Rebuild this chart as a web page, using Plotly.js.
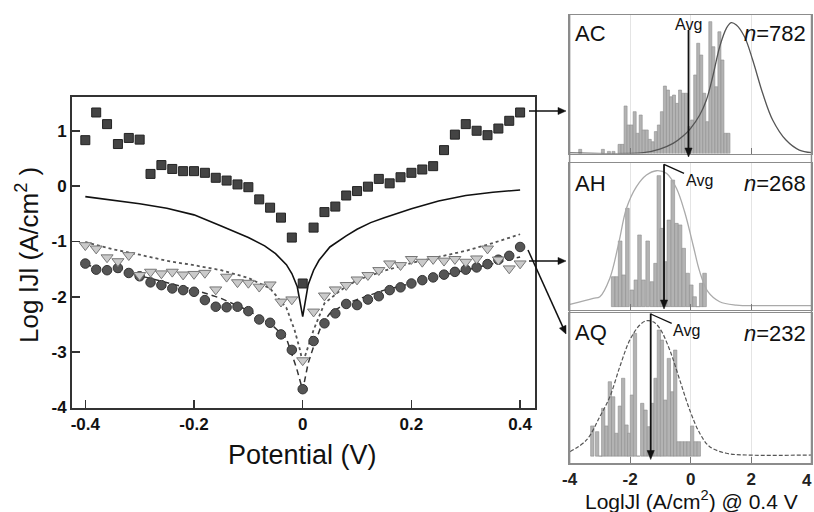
<!DOCTYPE html>
<html>
<head>
<meta charset="utf-8">
<script src="https://cdn.plot.ly/plotly-3.0.1.min.js"></script>
<style>html,body{margin:0;padding:0;background:#fff;}#chart{width:814px;height:512px;}</style>
</head>
<body>
<div id="chart"></div>
<script>
// ---------- main I-V plot data ----------
const potential = [-0.40,-0.38,-0.36,-0.34,-0.32,-0.30,-0.28,-0.26,-0.24,-0.22,-0.20,-0.18,-0.16,-0.14,-0.12,-0.10,-0.08,-0.06,-0.04,-0.02,0.00,
  0.02,0.04,0.06,0.08,0.10,0.12,0.14,0.16,0.18,0.20,0.22,0.24,0.26,0.28,0.30,0.32,0.34,0.36,0.38,0.40];
const squareLogJ = [0.83,1.33,1.12,0.76,0.87,0.84,0.22,0.38,0.31,0.27,0.27,0.24,0.15,0.10,0.03,-0.02,-0.24,-0.39,-0.57,-0.93,-1.76,
  -0.75,-0.47,-0.37,-0.17,-0.09,-0.01,0.13,0.05,0.16,0.24,0.30,0.36,0.65,0.93,1.12,1.00,0.92,1.04,1.18,1.33];
const triangleLogJ = [-1.07,-1.13,-1.29,-1.36,-1.25,-1.61,-1.55,-1.58,-1.55,-1.60,-1.59,-1.57,-1.87,-1.64,-1.74,-1.75,-1.82,-1.78,-2.09,-2.05,-3.15,
  -2.27,-1.98,-1.87,-1.79,-1.69,-1.61,-1.52,-1.40,-1.43,-1.32,-1.37,-1.32,-1.35,-1.32,-1.37,-1.31,-1.13,-1.33,-1.49,-1.40];
const circleLogJ = [-1.40,-1.51,-1.52,-1.48,-1.57,-1.63,-1.74,-1.79,-1.85,-1.88,-1.91,-2.06,-2.18,-2.19,-2.18,-2.26,-2.41,-2.47,-2.68,-2.96,-3.67,
  -2.80,-2.48,-2.30,-2.13,-2.15,-2.05,-1.99,-1.88,-1.83,-1.76,-1.70,-1.65,-1.60,-1.55,-1.51,-1.47,-1.41,-1.33,-1.26,-1.10];

const solidFitV     = [-0.40,-0.35,-0.30,-0.25,-0.20,-0.15,-0.10,-0.07,-0.05,-0.03,-0.02,-0.01,0.00,0.01,0.02,0.03,0.05,0.08,0.10,0.125,0.15,0.20,0.25,0.30,0.35,0.40];
const solidFitLogJ  = [-0.19,-0.25,-0.32,-0.40,-0.52,-0.72,-0.93,-1.08,-1.22,-1.42,-1.58,-1.82,-2.36,-1.78,-1.52,-1.34,-1.10,-0.90,-0.78,-0.66,-0.57,-0.41,-0.27,-0.17,-0.11,-0.07];
const dottedFitV    = [-0.40,-0.35,-0.30,-0.25,-0.20,-0.15,-0.10,-0.06,-0.03,-0.015,-0.005,0.00,0.01,0.02,0.04,0.07,0.10,0.15,0.20,0.25,0.30,0.35,0.40];
const dottedFitLogJ = [-1.01,-1.14,-1.24,-1.35,-1.43,-1.52,-1.66,-1.85,-2.20,-2.60,-2.96,-3.20,-2.90,-2.60,-2.12,-1.88,-1.70,-1.53,-1.39,-1.28,-1.17,-1.03,-0.87];
const dashedFitV    = [-0.40,-0.35,-0.30,-0.25,-0.20,-0.15,-0.10,-0.06,-0.03,-0.011,0.00,0.01,0.02,0.035,0.05,0.08,0.10,0.15,0.20,0.25,0.30,0.35,0.40];
const dashedFitLogJ = [-1.42,-1.53,-1.62,-1.74,-1.87,-2.03,-2.25,-2.48,-2.75,-3.30,-3.69,-3.20,-2.90,-2.50,-2.30,-2.12,-2.05,-1.88,-1.76,-1.63,-1.52,-1.40,-1.28];

// tick labels shown with a plain hyphen, as in the reference
const mainXTickLabels = {'\u22120.4':'-0.4', '\u22120.2':'-0.2'};
const mainYTickLabels = {'\u22121':'-1', '\u22122':'-2', '\u22123':'-3', '\u22124':'-4'};
const histXTickLabels = {'\u22124':'-4', '\u22122':'-2', '4':' '};
const histLastTickLabel = '4';

// ---------- histograms ----------
const acBinCenters = [-3.65,-2.90,-2.70,-2.55,-2.35,-2.25,-2.15,-2.05,-1.95,-1.85,-1.75,-1.65,-1.55,-1.45,-1.35,-1.25,-1.15,-1.05,-0.95,-0.85,-0.75,-0.65,-0.55,-0.45,-0.35,-0.25,-0.15,-0.05,0.05,0.15,0.25,0.35,0.45,0.55,0.65,0.75,0.85,0.95,1.05,1.15,1.25];
const acCounts     = [3,3,1.5,1.5,6.6,6.6,34.3,20.6,20.6,30.2,14.6,27.8,17,17,10.2,8.5,15.8,20.6,30.2,48.7,45.8,41,42.2,36.2,45.8,43.5,43.5,19.4,24.2,56.7,79.6,71.1,43.5,23,95.2,77.1,48.2,87.9,67.5,14.6,14.6];
const acFitX = [-4.0,-1.56,-1.02,-0.58,-0.25,0.0,0.30,0.52,0.73,0.96,1.18,1.34,1.51,1.78,2.05,2.38,2.71,3.15,3.59,4.0];
const acFitY = [0.5,0.6,3.2,7.3,12.6,18.2,27.8,38.6,55.5,77.1,90.4,94.5,92.8,84.3,67.5,43.5,24.2,9.7,2.5,0.6];
const acAvg = -0.07, acN = 782;

const ahBinCenters = [-2.56,-2.44,-2.33,-2.21,-2.09,-1.94,-1.81,-1.69,-1.56,-1.42,-1.28,-1.16,-1.05,-0.95,-0.84,-0.72,-0.59,-0.47,-0.35,-0.23,-0.10,0.02,0.13,0.24,0.35,0.46];
const ahCounts     = [20.9,20.9,45.8,22.1,68.6,11.6,18.6,50,18.6,45.8,17.4,30.2,91.4,54.6,31.4,60.4,88.3,58.1,57,40.7,23.3,15.1,6.9,0,16.3,23.3];
const ahFitX = [-3.99,-3.22,-3.0,-2.67,-2.39,-2.12,-1.79,-1.46,-1.13,-0.80,-0.47,-0.20,0.08,0.30,0.57,0.96,1.51,2.27,3.98];
const ahFitY = [1.6,5.8,6.9,19.8,43,68.6,83.7,91.8,94.8,93,82.6,66.2,43,24.4,10.4,3.4,1.1,0.7,0.7];
const ahAvg = -0.88, ahN = 268;

const aqBinCenters = [-3.25,-3.09,-2.98,-2.89,-2.78,-2.67,-2.56,-2.45,-2.34,-2.23,-2.12,-2.03,-1.94,-1.84,-1.73,-1.60,-1.49,-1.38,-1.27,-1.16,-1.05,-0.95,-0.84,-0.72,-0.61,-0.51,-0.40,-0.29,-0.18,-0.07,0.05,0.16,0.27];
const aqCounts     = [21.1,17.1,0,33.4,21.1,52,41.5,16,35,54.4,21.8,16,42.7,85.8,0,36.9,32.2,20.6,36.9,54.4,88.1,81.1,39.2,68.3,45,74.1,10.1,10.1,10.1,10.1,21.1,10.1,10.1];
const aqFitX = [-3.99,-3.44,-3.0,-2.67,-2.34,-2.01,-1.68,-1.46,-1.24,-1.02,-0.69,-0.36,-0.03,0.30,0.63,1.18,1.84,3.98];
const aqFitY = [3.1,11.3,27.6,41.5,62.5,81.1,91.6,94.6,93.9,89.3,74.1,53.2,32.2,16,6.6,2,0.8,0.8];
const aqAvg = -1.32, aqN = 232;

// ---------- layout helpers ----------
const W = 814, H = 512;
const px = x => x / W;
const py = y => 1 - y / H;
const FONT = 'Liberation Sans, Arial, Helvetica, sans-serif';

const traces = [
  {x: solidFitV, y: solidFitLogJ, type:'scatter', mode:'lines', line:{color:'#111', width:1.6}, xaxis:'x', yaxis:'y'},
  {x: dottedFitV, y: dottedFitLogJ, type:'scatter', mode:'lines', line:{color:'#555', width:1.8, dash:'dot'}, xaxis:'x', yaxis:'y'},
  {x: dashedFitV, y: dashedFitLogJ, type:'scatter', mode:'lines', line:{color:'#333', width:1.5, dash:'6px,4px'}, xaxis:'x', yaxis:'y'},
  {x: potential, y: circleLogJ, type:'scatter', mode:'markers', marker:{symbol:'circle', size:9.5, color:'#555', line:{color:'#333', width:1}}, xaxis:'x', yaxis:'y'},
  {x: potential, y: triangleLogJ, type:'scatter', mode:'markers', marker:{symbol:'triangle-down', size:10.5, color:'#cacaca', line:{color:'#777', width:1}}, xaxis:'x', yaxis:'y'},
  {x: potential, y: squareLogJ, type:'scatter', mode:'markers', marker:{symbol:'square', size:9, color:'#444', line:{color:'#222', width:1}}, xaxis:'x', yaxis:'y'},

  {x: acBinCenters, y: acCounts, type:'bar', width:0.1, marker:{color:'#b3b3b3', line:{color:'#8f8f8f', width:0.6}}, xaxis:'x2', yaxis:'y2'},
  {x: acFitX, y: acFitY, type:'scatter', mode:'lines', line:{color:'#555', width:1.3, shape:'spline', smoothing:1}, xaxis:'x2', yaxis:'y2'},
  {x: ahBinCenters, y: ahCounts, type:'bar', width:0.12, marker:{color:'#b3b3b3', line:{color:'#8f8f8f', width:0.6}}, xaxis:'x3', yaxis:'y3'},
  {x: ahFitX, y: ahFitY, type:'scatter', mode:'lines', line:{color:'#aaa', width:1.3, shape:'spline', smoothing:1}, xaxis:'x3', yaxis:'y3'},
  {x: aqBinCenters, y: aqCounts, type:'bar', width:0.11, marker:{color:'#b3b3b3', line:{color:'#8f8f8f', width:0.6}}, xaxis:'x4', yaxis:'y4'},
  {x: aqFitX, y: aqFitY, type:'scatter', mode:'lines', line:{color:'#555', width:1.2, dash:'4px,2px', shape:'spline', smoothing:1}, xaxis:'x4', yaxis:'y4'}
];

const histXDom = [px(569.6), px(811.7)];
const histX = (show, anchor) => ({
  domain: histXDom, anchor: anchor, range: [-4, 4], tickmode:'linear', tick0:0, dtick:2, labelalias: histXTickLabels,
  showticklabels: show, ticks:'inside', ticklen:6, tickcolor:'#777', tickwidth:1.2,
  showgrid:true, gridcolor:'#e4e4e4', gridwidth:1, zeroline:false,
  showline:true, mirror:true, linecolor:'#8c8c8c', linewidth:1.5,
  tickfont:{family:FONT, size:17, color:'#222', weight:'bold'}
});
// overlay axis carrying only the short minor ticks
const histMinorX = (over, anchor) => ({
  domain: histXDom, overlaying: over, anchor: anchor, side:'bottom', range:[-4, 4], tickmode:'linear', tick0:-4, dtick:2/3,
  showticklabels:false, ticks:'inside', ticklen:3, tickcolor:'#777', tickwidth:1,
  showgrid:false, zeroline:false, showline:false
});
const histY = (dom, rng, anchor) => ({
  domain: dom, anchor: anchor, range: rng, showticklabels:false, ticks:'', showgrid:false, zeroline:false,
  showline:true, mirror:true, linecolor:'#8c8c8c', linewidth:1.5
});
const annFont = (s, c) => ({family:FONT, size:s, color:c || '#111'});

// arrow drawn as shapes: a line plus a filled triangular head (paper pixel coords)
function pixelArrow(x0, y0, x1, y1, w) {
  const dx = x1 - x0, dy = y1 - y0, L = Math.hypot(dx, dy), ux = dx / L, uy = dy / L;
  const hl = 8, hw = 3.6;
  const bx = x1 - ux * hl, by = y1 - uy * hl;
  return [
    {type:'line', xref:'paper', yref:'paper', x0:px(x0), y0:py(y0), x1:px(bx + ux), y1:py(by + uy), line:{color:'#111', width:w}},
    {type:'path', xref:'paper', yref:'paper', fillcolor:'#111', line:{color:'#111', width:0.5},
     path:`M ${px(x1)},${py(y1)} L ${px(bx - uy * hw)},${py(by + ux * hw)} L ${px(bx + uy * hw)},${py(by - ux * hw)} Z`}
  ];
}
// vertical "Avg" arrow at a data x-position of a histogram axis
function avgArrow(xref, xv, yTop, yTip) {
  const hw = 3.6 / 30.35, hl = 9;
  return [
    {type:'line', xref: xref, yref:'paper', x0:xv, x1:xv, y0:py(yTop), y1:py(yTip - hl + 1), line:{color:'#111', width:1.8}},
    {type:'path', xref: xref, yref:'paper', fillcolor:'#111', line:{color:'#111', width:0.5},
     path:`M ${xv},${py(yTip)} L ${xv - hw},${py(yTip - hl)} L ${xv + hw},${py(yTip - hl)} Z`}
  ];
}

const mainXDom = [px(72), px(535)], mainYDom = [py(408), py(97)];
const mainXRange = [-0.4245, 0.4274], mainYRange = [-4.01, 1.61];

const layout = {
  width: W, height: H, margin:{l:0, r:0, t:0, b:0},
  paper_bgcolor:'#fff', plot_bgcolor:'#fff', showlegend:false, bargap:0,
  font:{family:FONT, color:'#111'},
  xaxis: {
    domain: mainXDom, anchor:'y', range: mainXRange, tickmode:'linear', tick0:0, dtick:0.2, labelalias: mainXTickLabels,
    ticks:'inside', ticklen:8, tickwidth:1.5, tickcolor:'#333',
    showgrid:false, zeroline:false, showline:true, mirror:true, linecolor:'#333', linewidth:2,
    tickfont:{family:FONT, size:17, color:'#111', weight:'bold'}
  },
  yaxis: {
    domain: mainYDom, anchor:'x', range: mainYRange, tickmode:'linear', tick0:0, dtick:1, labelalias: mainYTickLabels,
    ticks:'inside', ticklen:8, tickwidth:1.5, tickcolor:'#333',
    showgrid:false, zeroline:false, showline:true, mirror:true, linecolor:'#333', linewidth:2,
    tickfont:{family:FONT, size:17, color:'#111', weight:'bold'}
  },
  xaxis5: {domain: mainXDom, overlaying:'x', anchor:'y', side:'bottom', range: mainXRange, tickmode:'linear', tick0:0, dtick:0.05,
    showticklabels:false, ticks:'inside', ticklen:4, tickwidth:1.2, tickcolor:'#333', showgrid:false, zeroline:false, showline:false},
  yaxis5: {domain: mainYDom, overlaying:'y', anchor:'x', side:'left', range: mainYRange, tickmode:'linear', tick0:0, dtick:0.2,
    showticklabels:false, ticks:'inside', ticklen:4, tickwidth:1.2, tickcolor:'#333', showgrid:false, zeroline:false, showline:false},
  xaxis2: histX(false, 'y2'),
  yaxis2: histY([py(153.5), py(15)], [0, 100], 'x2'),
  xaxis3: histX(false, 'y3'),
  yaxis3: histY([py(309.5), py(163.3)], [-2, 100], 'x3'),
  xaxis4: histX(true, 'y4'),
  yaxis4: histY([py(463.3), py(313)], [-5, 100], 'x4'),
  xaxis6: histMinorX('x2', 'y2'),
  xaxis7: histMinorX('x3', 'y3'),
  xaxis8: histMinorX('x4', 'y4'),
  shapes: [
    {type:'line', xref:'paper', yref:'paper', x0:px(569.6), x1:px(569.6), y0:py(15), y1:py(463.3), line:{color:'#8c8c8c', width:1.5}},
    {type:'line', xref:'paper', yref:'paper', x0:px(811.5), x1:px(811.5), y0:py(15), y1:py(463.3), line:{color:'#8c8c8c', width:1.5}},
    ...pixelArrow(529, 111, 566, 111, 1.5),
    ...pixelArrow(529, 261, 566, 261, 1.5),
    ...pixelArrow(528, 250, 566, 334, 1.5),
    ...avgArrow('x2', acAvg, 30, 157),
    ...avgArrow('x3', ahAvg, 164.3, 309),
    ...avgArrow('x4', aqAvg, 313.5, 459.5)
  ],
  annotations: [
    // axis titles
    {xref:'paper', yref:'paper', x:px(27), y:py(255), text:'Log lJl (A/cm<sup>2</sup> )', textangle:-90, showarrow:false, xanchor:'center', yanchor:'middle', font:annFont(26)},
    {xref:'paper', yref:'paper', x:px(302), y:py(455), text:'Potential (V)', showarrow:false, xanchor:'center', yanchor:'middle', font:annFont(27)},
    {xref:'paper', yref:'paper', x:px(691), y:py(500), text:'LoglJl (A/cm<sup>2</sup>) @ 0.4 V', showarrow:false, xanchor:'center', yanchor:'middle', font:annFont(21)},
    // last histogram tick label, kept inside the picture
    {xref:'paper', yref:'paper', x:px(813.5), y:py(480), text:'<b>' + histLastTickLabel + '</b>', showarrow:false, xanchor:'right', yanchor:'middle', font:annFont(17, '#222')},
    // panel labels
    {xref:'paper', yref:'paper', x:px(573), y:py(33), text:'AC', showarrow:false, xanchor:'left', yanchor:'middle', font:annFont(22)},
    {xref:'paper', yref:'paper', x:px(808), y:py(33), text:'<i>n</i>=' + acN, showarrow:false, xanchor:'right', yanchor:'middle', font:annFont(22)},
    {xref:'paper', yref:'paper', x:px(573), y:py(183), text:'AH', showarrow:false, xanchor:'left', yanchor:'middle', font:annFont(22)},
    {xref:'paper', yref:'paper', x:px(808), y:py(183), text:'<i>n</i>=' + ahN, showarrow:false, xanchor:'right', yanchor:'middle', font:annFont(22)},
    {xref:'paper', yref:'paper', x:px(573), y:py(332), text:'AQ', showarrow:false, xanchor:'left', yanchor:'middle', font:annFont(22)},
    {xref:'paper', yref:'paper', x:px(808), y:py(333), text:'<i>n</i>=' + aqN, showarrow:false, xanchor:'right', yanchor:'middle', font:annFont(22)},
    // Avg labels
    {xref:'x2', yref:'paper', x:acAvg, y:py(24), text:'Avg', showarrow:false, xanchor:'center', yanchor:'middle', font:annFont(16)},
    {xref:'x3', yref:'paper', x:ahAvg, y:py(164.3), ax:35, ay:16, text:'Avg', showarrow:true, arrowhead:0, arrowwidth:1.3, arrowcolor:'#111', standoff:0, font:annFont(16)},
    {xref:'x4', yref:'paper', x:aqAvg, y:py(314), ax:36, ay:16, text:'Avg', showarrow:true, arrowhead:0, arrowwidth:1.3, arrowcolor:'#111', standoff:0, font:annFont(16)}
  ]
};

Plotly.newPlot('chart', traces, layout, {staticPlot:true, displayModeBar:false});
</script>
</body>
</html>
